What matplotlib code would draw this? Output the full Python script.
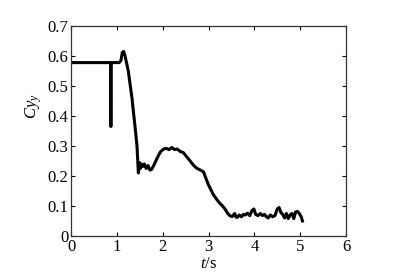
import matplotlib.pyplot as plt

# Cy time history
t = [0.0, 0.865, 0.87, 0.875, 1.05, 1.09, 1.12, 1.15, 1.18, 1.25, 1.33,
     1.40, 1.44, 1.47, 1.49, 1.51, 1.54, 1.57, 1.60, 1.64, 1.68, 1.72, 1.76, 1.82,
     1.88, 1.95, 2.02, 2.08, 2.14, 2.20, 2.26, 2.32, 2.38, 2.45, 2.52, 2.60, 2.66,
     2.74, 2.82, 2.89, 2.95, 3.00, 3.06, 3.11, 3.18, 3.24, 3.29, 3.36, 3.42, 3.47,
     3.52, 3.57, 3.60, 3.63, 3.67, 3.72, 3.76, 3.80, 3.85, 3.90, 3.95, 3.99, 4.03,
     4.08, 4.13, 4.18, 4.22, 4.26, 4.30, 4.35, 4.40, 4.45, 4.50, 4.54, 4.58, 4.62,
     4.66, 4.70, 4.74, 4.78, 4.82, 4.86, 4.90, 4.94, 4.98, 5.02, 5.05]
cy = [0.578, 0.578, 0.365, 0.578, 0.578, 0.585, 0.612, 0.615, 0.60, 0.55,
      0.46, 0.36, 0.30, 0.21, 0.245, 0.225, 0.24, 0.232, 0.24, 0.225, 0.235, 0.22,
      0.222, 0.24, 0.26, 0.28, 0.29, 0.292, 0.288, 0.295, 0.288, 0.29, 0.282, 0.278,
      0.265, 0.25, 0.238, 0.226, 0.22, 0.214, 0.19, 0.17, 0.152, 0.137, 0.122, 0.11,
      0.103, 0.09, 0.075, 0.067, 0.065, 0.075, 0.063, 0.062, 0.07, 0.064, 0.072,
      0.07, 0.076, 0.068, 0.085, 0.09, 0.072, 0.068, 0.075, 0.068, 0.072, 0.065,
      0.06, 0.07, 0.064, 0.068, 0.09, 0.095, 0.078, 0.072, 0.06, 0.075, 0.058,
      0.07, 0.075, 0.058, 0.08, 0.082, 0.075, 0.065, 0.05]

xticks = [0, 1, 2, 3, 4, 5, 6]
yticks = [0, 0.1, 0.2, 0.3, 0.4, 0.5, 0.6, 0.7]
yticklabels = ['0', '0.1', '0.2', '0.3', '0.4', '0.5', '0.6', '0.7']

plt.rcParams['font.family'] = 'Liberation Serif'
plt.rcParams['mathtext.fontset'] = 'custom'
plt.rcParams['mathtext.it'] = 'Liberation Serif:italic'
plt.rcParams['mathtext.rm'] = 'Liberation Serif'

fig = plt.figure(figsize=(3.96, 2.78), dpi=100)
ax = fig.add_axes([71 / 396, 1 - 236 / 278, 275 / 396, 210 / 278])
ax.plot(t, cy, color='black', lw=2.2)

ax.set_xlim(0, 6)
ax.set_ylim(0, 0.7)
ax.set_xticks(xticks)
ax.set_yticks(yticks)
ax.set_yticklabels(yticklabels)
ax.tick_params(direction='in', top=True, right=True, length=3, width=0.8,
               labelsize=12, pad=2)
for s in ax.spines.values():
    s.set_linewidth(0.9)
    s.set_color('#333333')

ax.set_xlabel(r'$t$/s', fontsize=12, labelpad=1)
ax.set_ylabel(r'$Cy_{y}$', fontsize=12)
ax.yaxis.set_label_coords(-0.10, 0.62)

fig.savefig('out.png', dpi=100)
